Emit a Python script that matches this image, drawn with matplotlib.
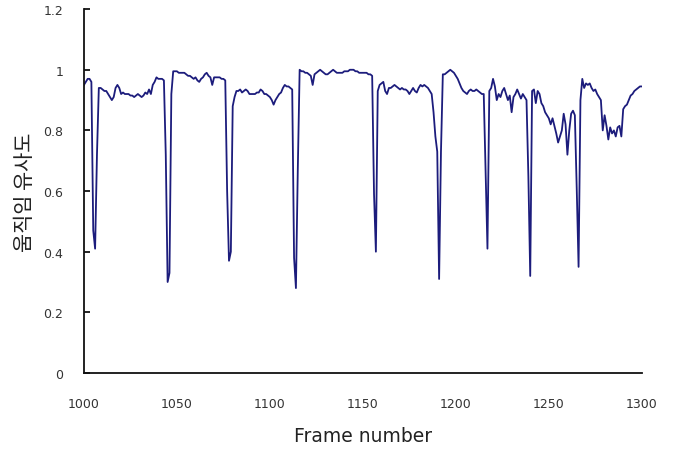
import matplotlib
matplotlib.use("Agg")
import matplotlib.pyplot as plt

# frames 1000..1300, one similarity value per frame
frame_start = 1000
similarity = [
    0.95, 0.96, 0.97, 0.97, 0.96, 0.47, 0.41, 0.72, 0.94, 0.94,      # 1000
    0.935, 0.93, 0.93, 0.92, 0.91, 0.90, 0.91, 0.94, 0.95, 0.94,     # 1010
    0.92, 0.925, 0.92, 0.92, 0.92, 0.915, 0.915, 0.91, 0.915, 0.92,  # 1020
    0.915, 0.91, 0.915, 0.925, 0.92, 0.935, 0.92, 0.95, 0.96, 0.975, # 1030
    0.97, 0.97, 0.97, 0.965, 0.72, 0.30, 0.33, 0.92, 0.995, 0.995,   # 1040
    0.995, 0.99, 0.99, 0.99, 0.99, 0.985, 0.98, 0.98, 0.975, 0.97,   # 1050
    0.975, 0.965, 0.96, 0.97, 0.975, 0.985, 0.99, 0.98, 0.975, 0.95, # 1060
    0.975, 0.975, 0.975, 0.975, 0.97, 0.97, 0.965, 0.60, 0.37, 0.40, # 1070
    0.88, 0.91, 0.93, 0.93, 0.935, 0.925, 0.93, 0.935, 0.93, 0.92,   # 1080
    0.92, 0.92, 0.92, 0.925, 0.925, 0.935, 0.93, 0.92, 0.92, 0.915,  # 1090
    0.91, 0.90, 0.885, 0.90, 0.91, 0.92, 0.925, 0.94, 0.95, 0.945,   # 1100
    0.945, 0.94, 0.935, 0.38, 0.28, 0.67, 1.0, 0.995, 0.995, 0.99,   # 1110
    0.99, 0.985, 0.98, 0.95, 0.985, 0.99, 0.995, 1.0, 0.995, 0.99,   # 1120
    0.985, 0.985, 0.99, 0.995, 1.0, 0.995, 0.99, 0.99, 0.99, 0.99,   # 1130
    0.995, 0.995, 0.995, 1.0, 1.0, 1.0, 0.995, 0.995, 0.99, 0.99,    # 1140
    0.99, 0.99, 0.99, 0.985, 0.985, 0.98, 0.59, 0.40, 0.93, 0.95,    # 1150
    0.955, 0.96, 0.93, 0.92, 0.94, 0.94, 0.945, 0.95, 0.945, 0.94,   # 1160
    0.935, 0.94, 0.935, 0.935, 0.93, 0.92, 0.93, 0.94, 0.93, 0.925,  # 1170
    0.94, 0.95, 0.945, 0.95, 0.945, 0.94, 0.93, 0.92, 0.86, 0.78,    # 1180
    0.73, 0.31, 0.73, 0.985, 0.985, 0.99, 0.995, 1.0, 0.995, 0.99,   # 1190
    0.98, 0.97, 0.955, 0.94, 0.93, 0.925, 0.92, 0.93, 0.935, 0.93,   # 1200
    0.93, 0.935, 0.93, 0.925, 0.92, 0.92, 0.66, 0.41, 0.93, 0.94,    # 1210
    0.97, 0.945, 0.90, 0.92, 0.91, 0.93, 0.94, 0.92, 0.90, 0.915,    # 1220
    0.86, 0.91, 0.92, 0.935, 0.92, 0.905, 0.92, 0.91, 0.90, 0.65,    # 1230
    0.32, 0.93, 0.935, 0.89, 0.93, 0.92, 0.89, 0.88, 0.86, 0.85,     # 1240
    0.84, 0.82, 0.84, 0.815, 0.79, 0.76, 0.78, 0.80, 0.855, 0.82,    # 1250
    0.72, 0.80, 0.855, 0.865, 0.85, 0.61, 0.35, 0.90, 0.97, 0.94,    # 1260
    0.955, 0.95, 0.955, 0.94, 0.93, 0.935, 0.92, 0.91, 0.90, 0.80,   # 1270
    0.85, 0.815, 0.77, 0.81, 0.79, 0.80, 0.78, 0.81, 0.815, 0.78,    # 1280
    0.87, 0.88, 0.885, 0.90, 0.915, 0.92, 0.93, 0.935, 0.94, 0.945,  # 1290
    0.945,                                                           # 1300
]
frames = list(range(frame_start, frame_start + len(similarity)))

x_ticks = [1000, 1050, 1100, 1150, 1200, 1250, 1300]
y_ticks = [0, 0.2, 0.4, 0.6, 0.8, 1, 1.2]
y_tick_labels = ["0", "0.2", "0.4", "0.6", "0.8", "1", "1.2"]

fig = plt.figure(figsize=(6.77, 4.52), dpi=100)
ax = fig.add_axes([0.124, 0.1726, 0.824, 0.805])

ax.plot(frames, similarity, color="#1c1c7c", linewidth=1.3)

ax.set_xlim(1000, 1300)
ax.set_ylim(0, 1.2)
ax.set_xticks(x_ticks)
ax.set_yticks(y_ticks)
ax.set_yticklabels(y_tick_labels)

for side in ["top", "right"]:
    ax.spines[side].set_visible(False)
for side in ["left", "bottom"]:
    ax.spines[side].set_linewidth(1.3)
    ax.spines[side].set_color("#111111")

ax.tick_params(axis="y", direction="in", length=4, width=1.2, pad=15,
               labelsize=9, labelcolor="#333333")
ax.tick_params(axis="x", length=0, pad=17, labelsize=9, labelcolor="#333333")

ax.set_xlabel("Frame number", fontsize=13.5, color="#222222", labelpad=12)
ax.set_ylabel("움직임 유사도", fontsize=15, color="#222222", labelpad=5,
              family=["Noto Sans CJK KR", "DejaVu Sans"])

fig.savefig("out.png", dpi=100, facecolor="white")
